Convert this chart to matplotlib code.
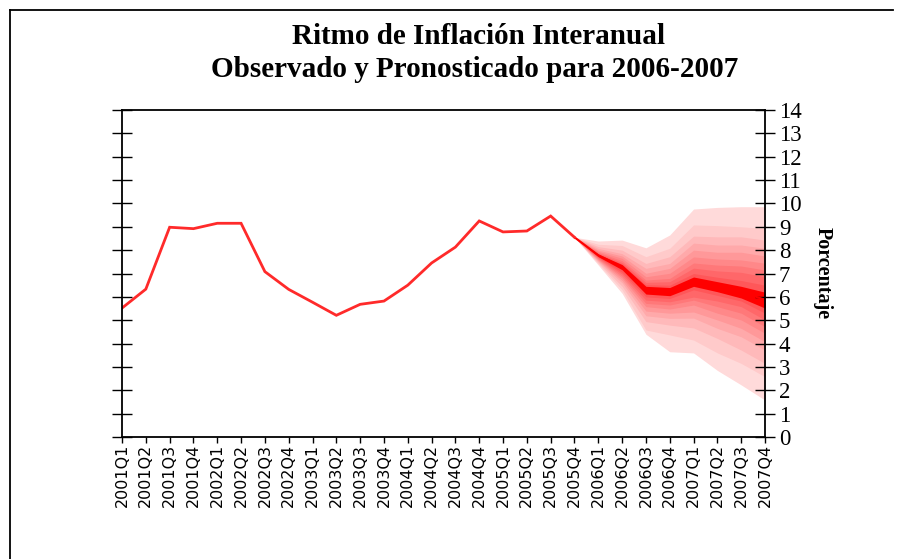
import matplotlib
matplotlib.use("Agg")
import matplotlib.pyplot as plt
import numpy as np

# quarters 2001Q1 .. 2007Q4
quarters = [f"{y}Q{q}" for y in range(2001, 2008) for q in range(1, 5)]

# observed inflation, 2001Q1 .. 2005Q4
observed = [5.52, 6.33, 8.98, 8.92, 9.15, 9.15, 7.08, 6.32,
            5.77, 5.21, 5.68, 5.82, 6.50, 7.45, 8.13, 9.25,
            8.78, 8.82, 9.46, 8.55]

# forecast centre, 2005Q4 .. 2007Q4
central = [8.55, 7.78, 7.28, 6.30, 6.24, 6.66, 6.45, 6.20, 5.88]

# fan bands, outer -> inner, 2005Q4 .. 2007Q4
fan_hi = [
    [8.55, 8.39, 8.43, 8.10, 8.65, 9.76, 9.83, 9.86, 9.86],
    [8.55, 8.25, 8.20, 7.72, 8.08, 9.08, 9.05, 9.00, 8.93],
    [8.55, 8.15, 8.00, 7.43, 7.72, 8.60, 8.57, 8.57, 8.43],
    [8.55, 8.07, 7.85, 7.22, 7.43, 8.30, 8.22, 8.22, 8.08],
    [8.55, 8.00, 7.75, 7.01, 7.22, 8.00, 7.91, 7.91, 7.75],
    [8.55, 7.95, 7.65, 6.86, 7.01, 7.71, 7.62, 7.58, 7.44],
    [8.55, 7.90, 7.55, 6.72, 6.79, 7.45, 7.36, 7.32, 7.15],
    [8.55, 7.86, 7.47, 6.62, 6.65, 7.23, 7.11, 7.05, 6.86],
    [8.55, 7.83, 7.40, 6.52, 6.50, 7.00, 6.84, 6.70, 6.50],
]
fan_lo = [
    [8.55, 7.36, 6.15, 4.40, 3.65, 3.60, 2.85, 2.23, 1.58],
    [8.55, 7.42, 6.30, 4.58, 4.37, 4.15, 3.60, 3.15, 2.58],
    [8.55, 7.47, 6.45, 4.94, 4.79, 4.67, 4.22, 3.72, 3.15],
    [8.55, 7.52, 6.60, 5.19, 5.08, 5.09, 4.65, 4.29, 3.72],
    [8.55, 7.56, 6.70, 5.39, 5.30, 5.35, 5.01, 4.65, 4.08],
    [8.55, 7.60, 6.80, 5.58, 5.48, 5.65, 5.30, 5.01, 4.44],
    [8.55, 7.63, 6.88, 5.72, 5.65, 5.86, 5.58, 5.30, 4.72],
    [8.55, 7.67, 6.97, 5.86, 5.79, 5.99, 5.82, 5.58, 5.01],
    [8.55, 7.70, 7.05, 6.00, 5.93, 6.30, 6.06, 5.82, 5.30],
]
# dark core of the fan
core_hi = [8.55, 7.83, 7.38, 6.45, 6.40, 6.85, 6.65, 6.45, 6.20]
core_lo = [8.55, 7.72, 7.16, 6.12, 6.05, 6.45, 6.22, 5.95, 5.52]

x_all = np.arange(len(quarters))
x_obs = x_all[:len(observed)]
x_fc = x_all[len(observed) - 1:]

fig = plt.figure(figsize=(9.04, 5.59), dpi=100)
ax = fig.add_axes([122 / 904, 1 - 437 / 559, (765 - 122) / 904, (437 - 110) / 559])

# fan: pale outside, stronger inside
n = len(fan_hi)
for k in range(n):
    a = 0.15 + (0.68 - 0.15) * k / (n - 1)
    col = (1.0, 1.0 - a * 0.97, 1.0 - a * 0.96)
    ax.fill_between(x_fc, fan_lo[k], fan_hi[k], color=col, lw=0)
ax.fill_between(x_fc, core_lo, core_hi, color="#ff0000", lw=0)
ax.plot(x_fc, central, color="#ff0000", lw=1.5)

ax.plot(x_obs, observed, color="#ff2a2a", lw=2.0, solid_joinstyle="miter")

ax.set_xlim(0, len(quarters) - 1)
ax.set_ylim(0, 14)
ax.set_yticks(range(0, 15))
ax.set_xticks(x_all)
ax.set_xticklabels(quarters, rotation=90, fontsize=11.5, family="DejaVu Sans")
ax.tick_params(axis="x", direction="out", length=4, width=1, pad=1)
ax.tick_params(axis="y", direction="inout", length=14, width=1,
               left=True, right=True, labelleft=False, labelright=True,
               labelsize=16.5, pad=3)
for lab in ax.get_yticklabels():
    lab.set_family("Liberation Serif")
for s in ax.spines.values():
    s.set_linewidth(1.3)

ax.yaxis.set_label_position("right")
ax.set_ylabel("Porcentaje", rotation=-90, family="Liberation Serif",
              fontweight="bold", fontsize=14.5, labelpad=22)

fig.text(479 / 904, 1 - 37 / 559, "Ritmo de Inflación Interanual",
         ha="center", va="center", family="Liberation Serif",
         fontweight="bold", fontsize=21)
fig.text(475 / 904, 1 - 70 / 559, "Observado y Pronosticado para 2006-2007",
         ha="center", va="center", family="Liberation Serif",
         fontweight="bold", fontsize=21)

# outer frame of the picture
fig.add_artist(plt.Line2D([10 / 904, 893 / 904], [1 - 10 / 559, 1 - 10 / 559],
                          transform=fig.transFigure, color="black", lw=1.3))
fig.add_artist(plt.Line2D([10 / 904, 10 / 904], [0, 1 - 10 / 559],
                          transform=fig.transFigure, color="black", lw=1.3))

fig.savefig("out.png", dpi=100)
